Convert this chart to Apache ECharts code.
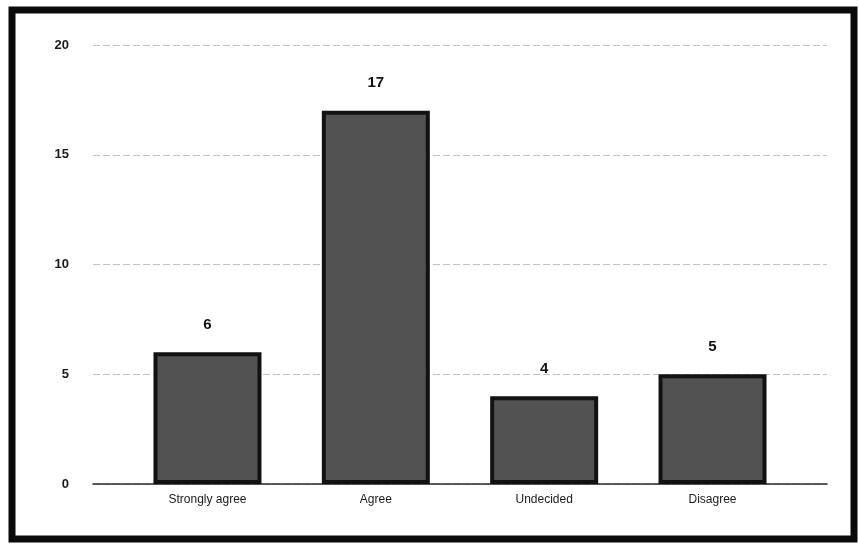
<!DOCTYPE html>
<html>
<head>
<meta charset="utf-8">
<script src="https://cdn.jsdelivr.net/npm/echarts@6/dist/echarts.min.js"></script>
<style>
html,body{margin:0;padding:0;background:#fff;}
#c{width:859px;height:548px;}
</style>
</head>
<body>
<div id="c"></div>
<script>
var categories = ["Strongly agree", "Agree", "Undecided", "Disagree"];
var values = [6, 17, 4, 5];
var yTicks = [0, 5, 10, 15, 20];

var chart = echarts.init(document.getElementById('c'), null, {renderer: 'canvas'});
var barData = values.map(function (v, i) { return [i, v]; });

chart.setOption({
  backgroundColor: '#ffffff',
  animation: false,
  textStyle: {fontFamily: 'Liberation Sans, Arial, sans-serif'},
  graphic: [{
    type: 'rect',
    shape: {x: 12, y: 10, width: 842, height: 529},
    style: {fill: 'none', stroke: '#0a0a0a', lineWidth: 7},
    z: 100
  }],
  grid: {left: 93, right: 32, top: 45, bottom: 64},
  xAxis: {
    type: 'value',
    min: -0.68,
    max: 3.68,
    splitLine: {show: false},
    axisTick: {show: false},
    axisLine: {show: true, onZero: false, lineStyle: {color: '#2a2a2a', width: 1.5}},
    axisLabel: {
      customValues: categories.map(function (c, i) { return i; }),
      formatter: function (v) { return categories[Math.round(v)]; },
      color: '#1a1a1a',
      fontSize: 12,
      margin: 10,
      showMinLabel: true,
      showMaxLabel: true
    }
  },
  yAxis: {
    type: 'value',
    min: yTicks[0],
    max: yTicks[yTicks.length - 1],
    interval: 5,
    axisLine: {show: false},
    axisTick: {show: false},
    axisLabel: {color: '#1a1a1a', fontSize: 13, fontWeight: 'bold', margin: 24},
    splitLine: {
      show: true,
      lineStyle: {color: '#c9bfc0', width: 1, type: [7, 3]}
    }
  },
  series: [{
    type: 'bar',
    data: barData,
    barWidth: 108,
    itemStyle: {color: '#525252', borderColor: '#121212', borderWidth: 4},
    label: {
      show: true,
      position: 'top',
      distance: 20,
      formatter: function (p) { return p.value[1]; },
      color: '#111',
      fontSize: 15,
      fontWeight: 'bold'
    }
  }]
});
</script>
</body>
</html>
